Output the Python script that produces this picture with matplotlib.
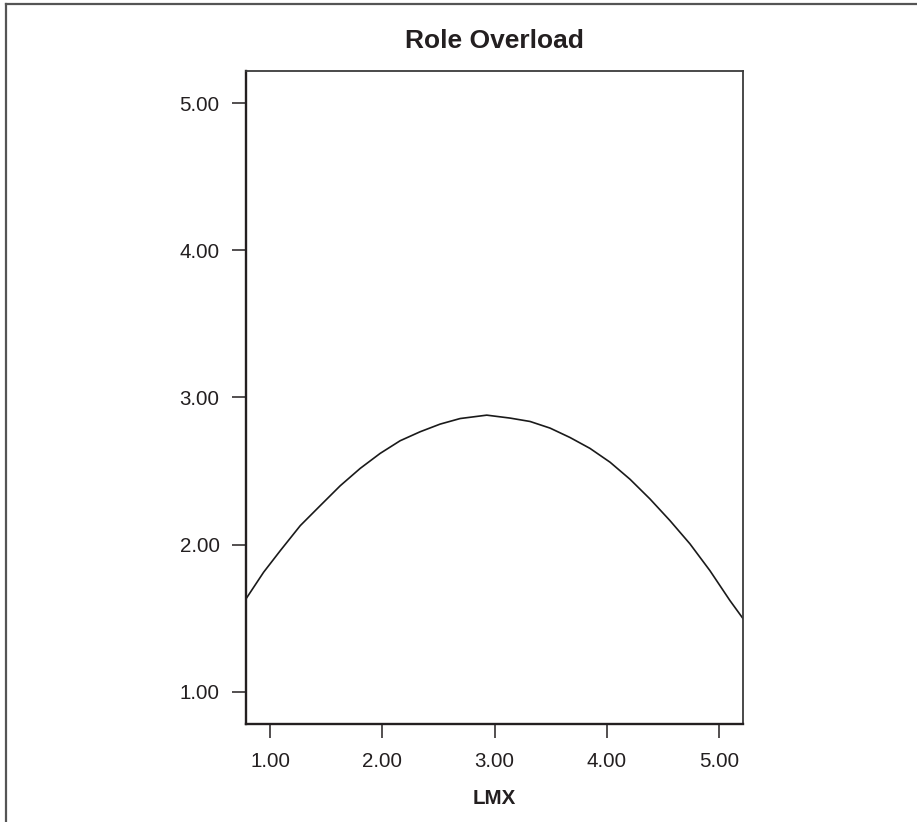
import matplotlib
matplotlib.use("Agg")
import matplotlib.pyplot as plt
from matplotlib.lines import Line2D

plt.rcParams['font.family'] = ['Liberation Sans', 'DejaVu Sans']

# Data
lmx = [0.785, 0.942, 1.091, 1.269, 1.447, 1.625, 1.803, 1.981, 2.159, 2.337,
       2.515, 2.694, 2.931, 3.139, 3.317, 3.495, 3.673, 3.851, 4.030, 4.208,
       4.386, 4.564, 4.742, 4.920, 5.098, 5.216]
role_overload = [1.631, 1.812, 1.959, 2.129, 2.265, 2.400, 2.518, 2.620, 2.706, 2.767,
                 2.819, 2.857, 2.880, 2.860, 2.837, 2.792, 2.728, 2.654, 2.560, 2.444,
                 2.310, 2.163, 2.005, 1.823, 1.620, 1.496]
xticks = [1.0, 2.0, 3.0, 4.0, 5.0]
yticks = [1.0, 2.0, 3.0, 4.0, 5.0]
tick_labels = ["1.00", "2.00", "3.00", "4.00", "5.00"]

W, H = 917, 822
fig = plt.figure(figsize=(W / 100, H / 100), dpi=100)
ax = fig.add_axes([246 / W, 1 - 724 / H, (743 - 246) / W, (724 - 71) / H])

ax.plot(lmx, role_overload, color='#1a1a1a', lw=1.2, solid_joinstyle='round')

ax.set_xlim(0.785, 5.215)
ax.set_ylim(0.78, 5.22)
ax.set_xticks(xticks)
ax.set_xticklabels(tick_labels)
ax.set_yticks(yticks)
ax.set_yticklabels(tick_labels)

ax.tick_params(axis='both', direction='out', length=10, width=1.1,
               colors='#231f20', labelsize=14.8, pad=9)
ax.tick_params(axis='x', pad=10)
for s in ['left', 'bottom']:
    ax.spines[s].set_linewidth(1.7)
    ax.spines[s].set_color('#231f20')
for s in ['top', 'right']:
    ax.spines[s].set_linewidth(1.3)
    ax.spines[s].set_color('#3a3a3a')

ax.set_xlabel("LMX", fontsize=14.8, fontweight='bold', color='#231f20', labelpad=13)

fig.text(494.5 / W, 1 - 41 / H, "Role Overload", ha='center', va='center',
         fontsize=19, fontweight='bold', color='#231f20')

# outer frame (left and top edges)
fig.add_artist(Line2D([6 / W, 6 / W], [0, 1 - 4 / H], transform=fig.transFigure,
                      color='#555555', lw=1.6))
fig.add_artist(Line2D([6 / W, 1], [1 - 4 / H, 1 - 4 / H], transform=fig.transFigure,
                      color='#555555', lw=1.6))

fig.savefig("out.png", dpi=100, facecolor='white')
